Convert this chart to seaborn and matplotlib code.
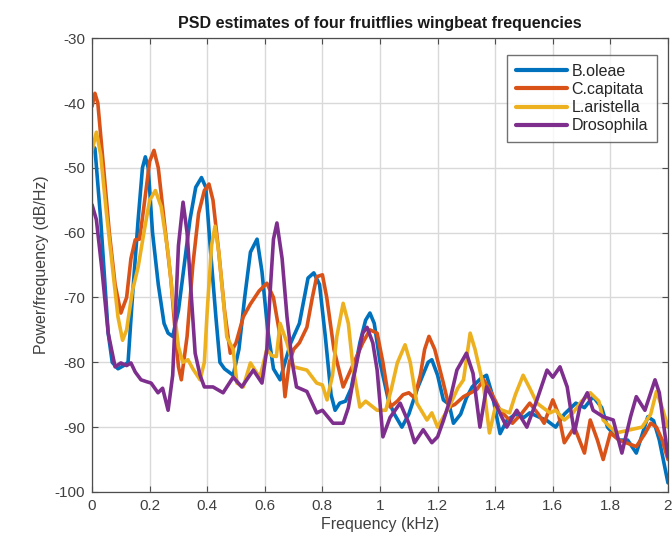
import matplotlib
matplotlib.use("Agg")
import matplotlib.pyplot as plt
import numpy as np
import pandas as pd
import seaborn as sns

# (kHz, dB/Hz)
boleae_f = [0.0, 0.01, 0.03, 0.056, 0.07, 0.09, 0.11, 0.125, 0.14, 0.16, 0.175, 0.185, 0.195, 0.21, 0.23,
            0.25, 0.264, 0.28, 0.30, 0.32, 0.34, 0.36, 0.38, 0.395, 0.41, 0.43, 0.444, 0.46, 0.49, 0.51,
            0.53, 0.55, 0.573, 0.59, 0.61, 0.63, 0.653, 0.67, 0.69, 0.72, 0.75, 0.77, 0.79, 0.81, 0.83,
            0.844, 0.86, 0.88, 0.90, 0.93, 0.95, 0.965, 0.98, 1.0, 1.03, 1.05, 1.076, 1.10, 1.13, 1.167,
            1.18, 1.20, 1.22, 1.24, 1.255, 1.28, 1.30, 1.32, 1.35, 1.37, 1.39, 1.417, 1.44, 1.47, 1.50,
            1.52, 1.55, 1.58, 1.61, 1.64, 1.68, 1.71, 1.74, 1.77, 1.79, 1.83, 1.86, 1.89, 1.93, 1.95,
            1.97, 2.0]
boleae_db = [-46.5, -47, -58, -75.5, -80, -81, -80.5, -80, -70, -58, -50, -48.3, -50, -60, -68,
             -74, -75.5, -76, -72, -65, -58, -53, -51.5, -53, -62, -73, -80, -81, -82, -78,
             -70, -63, -61, -66, -75, -81, -82.7, -80, -77, -74, -67, -66.2, -68, -76, -85,
             -87.4, -86.3, -86, -84, -77, -73.5, -72.4, -74, -80, -86, -88, -90, -88, -84, -80,
             -79.6, -82, -85.8, -86.5, -89.4, -88, -85.5, -83.8, -82.5, -82, -85, -91, -89, -88, -88.5,
             -87.8, -88.4, -89, -90, -88, -86.3, -87, -85.3, -87, -90, -92, -92, -94, -88.4, -89,
             -92, -98.6]

ccapitata_f = [0.0, 0.01, 0.02, 0.04, 0.06, 0.08, 0.10, 0.12, 0.135, 0.15, 0.165, 0.18, 0.20, 0.215, 0.23,
               0.25, 0.274, 0.29, 0.30, 0.31, 0.33, 0.35, 0.37, 0.39, 0.406, 0.42, 0.44, 0.46, 0.48, 0.50,
               0.525, 0.55, 0.58, 0.607, 0.63, 0.653, 0.67, 0.685, 0.70, 0.72, 0.746, 0.765, 0.78, 0.80,
               0.815, 0.84, 0.872, 0.89, 0.91, 0.94, 0.965, 0.99, 1.01, 1.035, 1.06, 1.08, 1.10, 1.12,
               1.14, 1.155, 1.17, 1.19, 1.22, 1.24, 1.26, 1.29, 1.336, 1.36, 1.39, 1.417, 1.46, 1.49,
               1.52, 1.55, 1.57, 1.60, 1.62, 1.64, 1.675, 1.71, 1.73, 1.755, 1.775, 1.80, 1.83, 1.86,
               1.89, 1.92, 1.94, 1.96, 1.98, 2.0]
ccapitata_db = [-40.5, -38.5, -40, -50, -60, -68, -72.4, -70, -64, -61.1, -61, -56, -49, -47.3, -50,
                -58, -67.3, -76, -80.7, -82.7, -76, -65, -57, -53.5, -52.5, -55, -63, -72, -78.6, -77,
                -73, -71, -69, -67.8, -70, -76, -85.3, -80, -78, -77, -74.6, -70, -66.8, -66.5,
                -70, -78, -83.8, -82, -80, -77, -75, -75.5, -80, -86.9, -86, -85, -84.7, -85.5,
                -82, -78, -76, -78, -83.2, -86.9, -86.5, -85.3, -84.2, -82.7, -85, -87.4, -89.4, -88,
                -86.3, -88, -89.4, -85.8, -88, -92.4, -90, -94, -88.9, -92, -95, -90.9, -92, -92.5,
                -93, -91, -89.4, -90, -92, -95]

laristella_f = [0.0, 0.015, 0.03, 0.05, 0.07, 0.09, 0.106, 0.12, 0.14, 0.16, 0.18, 0.20, 0.22, 0.24, 0.264,
                0.28, 0.30, 0.315, 0.333, 0.35, 0.375, 0.39, 0.40, 0.415, 0.427, 0.44, 0.455, 0.468, 0.49,
                0.503, 0.525, 0.55, 0.57, 0.583, 0.607, 0.625, 0.64, 0.653, 0.677, 0.70, 0.746, 0.78, 0.80,
                0.816, 0.835, 0.85, 0.872, 0.89, 0.906, 0.93, 0.95, 0.99, 1.02, 1.04, 1.06, 1.087, 1.105,
                1.128, 1.163, 1.18, 1.20, 1.24, 1.27, 1.29, 1.313, 1.33, 1.36, 1.38, 1.40, 1.45, 1.47,
                1.497, 1.52, 1.545, 1.59, 1.61, 1.64, 1.67, 1.70, 1.73, 1.76, 1.775, 1.82, 1.86, 1.91,
                1.94, 1.96, 1.98, 2.0]
laristella_db = [-47.3, -44.5, -48, -57, -65, -73, -76.6, -75, -69, -65.3, -60, -55, -53.5, -56, -63.1,
                 -70, -77.6, -80, -79.6, -81, -82.7, -80, -72, -62, -59, -63, -70, -76.1, -78,
                 -83.2, -83.8, -80.1, -81.5, -82.3, -78, -79, -79.1, -74, -77, -80.7, -81.2, -83.2, -83.5,
                 -85.8, -82, -76, -70.9, -74, -80.7, -86.9, -86, -87.4, -87.4, -84, -80.1, -77.3, -80,
                 -86.3, -88.9, -87.8, -90, -86.9, -84, -82.7, -75.5, -78, -83.8, -90.9, -87, -87.8, -85,
                 -82, -84, -86.3, -87.8, -87.4, -88.9, -87.8, -86, -84.7, -86, -88.9, -90.9, -90.5, -90,
                 -88, -84.5, -87, -90]

dros_f = [0.0, 0.015, 0.035, 0.056, 0.08, 0.1, 0.12, 0.135, 0.15, 0.17, 0.19, 0.205, 0.229, 0.245, 0.264,
          0.28, 0.29, 0.30, 0.316, 0.33, 0.345, 0.358, 0.375, 0.39, 0.42, 0.455, 0.49, 0.52, 0.56, 0.59,
          0.607, 0.62, 0.63, 0.642, 0.66, 0.677, 0.695, 0.71, 0.746, 0.78, 0.80, 0.837, 0.872, 0.89,
          0.91, 0.94, 0.955, 0.975, 0.99, 1.01, 1.035, 1.07, 1.10, 1.12, 1.15, 1.18, 1.20, 1.22, 1.243,
          1.267, 1.30, 1.323, 1.347, 1.37, 1.406, 1.44, 1.475, 1.51, 1.545, 1.58, 1.60, 1.625, 1.65,
          1.675, 1.694, 1.72, 1.74, 1.775, 1.81, 1.84, 1.87, 1.89, 1.92, 1.955, 1.97, 2.0]
dros_db = [-55.7, -58, -66, -75.5, -80.7, -80.1, -80.5, -80.1, -81.5, -82.7, -83, -83.2, -84.7, -84, -87.4,
           -82, -72, -62, -55.3, -60, -70, -78.6, -82, -83.8, -83.8, -84.7, -82.3, -83.8, -81.2, -83.2,
           -78, -68, -61, -58.5, -64, -73, -80, -83.8, -84.5, -87.8, -87.4, -89.4, -89.4, -87,
           -82, -75.5, -74.6, -77, -81.2, -91.5, -88.5, -86.3, -89.4, -92.4, -90.4, -92.4, -91.5, -89, -85.8,
           -81.2, -78.6, -81.7, -90, -83.8, -86.9, -90, -87.4, -90, -85.8, -81.2, -82.3, -80.7, -83.8,
           -90.9, -86.9, -84.7, -87.4, -88.4, -88.9, -94, -88.4, -85.3, -87.4, -82.7, -84.7, -94.6]

names = ["B.oleae", "C.capitata", "L.aristella", "Drosophila"]
colors = ["#0072BD", "#D95319", "#EDB120", "#7E2F8E"]

frames = []
for name, f, db in zip(names, [boleae_f, ccapitata_f, laristella_f, dros_f],
                       [boleae_db, ccapitata_db, laristella_db, dros_db]):
    frames.append(pd.DataFrame({"Frequency": f, "Power": db, "Species": name}))
df = pd.concat(frames, ignore_index=True)

sns.set_style("ticks")
plt.rcParams['font.family'] = ['Liberation Sans', 'DejaVu Sans']
plt.rcParams['axes.unicode_minus'] = False

fig = plt.figure(figsize=(6.72, 5.46), dpi=100)
ax = fig.add_axes([0.137, 0.099, 0.857, 0.831])

g = sns.lineplot(data=df, x="Frequency", y="Power", hue="Species",
                 hue_order=names, palette=colors, sort=False, estimator=None,
                 linewidth=2.6, ax=ax)

ax.set_xlim(0, 2)
ax.set_ylim(-100, -30)
ax.set_xticks(np.arange(0, 2.01, 0.2))
ax.set_xticklabels(["0", "0.2", "0.4", "0.6", "0.8", "1", "1.2", "1.4", "1.6", "1.8", "2"])
ax.set_yticks(np.arange(-100, -29, 10))
ax.grid(True, color="#d9d9d9", linewidth=1.0)
ax.set_axisbelow(True)
for s in ax.spines.values():
    s.set_color("#4d4d4d")
    s.set_linewidth(0.9)
ax.tick_params(direction="in", length=4, color="#4d4d4d", labelcolor="#404040",
               labelsize=11, top=True, right=True, pad=5)

ax.set_xlabel("Frequency (kHz)", fontsize=11.5, color="#404040", labelpad=3)
ax.set_ylabel("Power/frequency (dB/Hz)", fontsize=11.5, color="#404040", labelpad=4)
ax.set_title("PSD estimates of four fruitflies wingbeat frequencies",
             fontsize=11.5, fontweight="bold", color="#1a1a1a", pad=7)

leg = ax.legend(loc="upper right", bbox_to_anchor=(0.981, 0.963), fontsize=11.5,
                frameon=True, fancybox=False, handlelength=3.2, handletextpad=0.3,
                borderpad=0.55, labelspacing=0.2, borderaxespad=0)
leg.get_frame().set_edgecolor("#4d4d4d")
leg.get_frame().set_linewidth(1.0)
for line in leg.get_lines():
    line.set_linewidth(3)

fig.savefig("out.png", dpi=100)
